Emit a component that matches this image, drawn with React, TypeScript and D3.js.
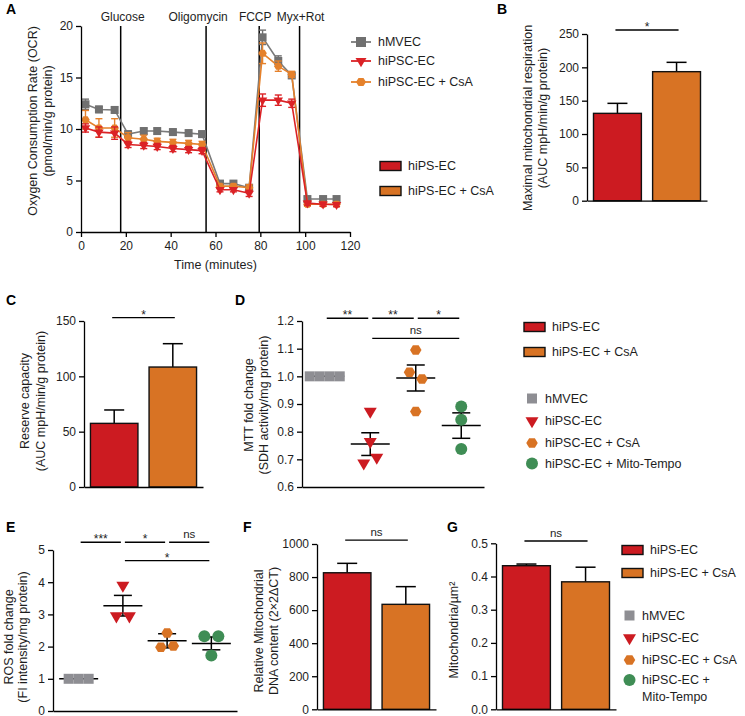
import React, { useEffect, useRef } from "react";
import * as d3 from "d3";

const FONT = "'Liberation Sans', Arial, Helvetica, sans-serif";
const TXT = "#1e1e1e";
const RED = "#cc1b21";
const ORANGE = "#d87324";
const GRAY_A = "#707070";
const GRAY_D = "#8e8e93";
const GREEN = "#3f8d55";
const LINE_RED = "#db2226";
const LINE_ORANGE = "#e5812b";

// ---------- Panel A: OCR time course ----------
const timePoints = [2, 8, 15, 21, 28, 34, 41, 48, 54, 62, 68, 75, 81, 88, 94, 101, 108, 114];
const ocrHMVEC = [12.4, 11.9, 11.85, 9.5, 9.8, 9.8, 9.7, 9.6, 9.5, 4.7, 4.7, 4.3, 18.9, 16.6, 15.2, 3.2, 3.2, 3.2];
const ocrHMVECErr = [0.5, 0.3, 0.3, 0.3, 0.3, 0.3, 0.3, 0.3, 0.3, 0.2, 0.2, 0.2, 0.7, 0.5, 0.2, 0.2, 0.2, 0.2];
const ocrHiPSC = [10.1, 9.7, 9.6, 8.5, 8.4, 8.3, 8.1, 8.0, 7.9, 4.1, 4.1, 3.75, 12.8, 12.8, 12.5, 2.8, 2.7, 2.65];
const ocrHiPSCErr = [0.4, 0.5, 0.6, 0.3, 0.3, 0.3, 0.3, 0.3, 0.3, 0.2, 0.2, 0.3, 0.6, 0.5, 0.4, 0.2, 0.2, 0.2];
const ocrHiPSCCsA = [10.9, 10.1, 10.1, 9.15, 9.0, 8.8, 8.7, 8.6, 8.5, 4.45, 4.45, 4.3, 17.35, 16.1, 15.3, 2.7, 2.7, 2.7];
const ocrHiPSCCsAErr = [0.9, 0.9, 0.9, 0.5, 0.4, 0.3, 0.3, 0.3, 0.3, 0.2, 0.2, 0.3, 1.0, 0.5, 0.3, 0.2, 0.2, 0.2];
const injectionTimes = [17.7, 55.8, 79.5, 97.5];
const injectionLabels = ["Glucose", "Oligomycin", "FCCP", "Myx+Rot"];
const ocrTicksY = [0, 5, 10, 15, 20];
const ocrTicksX = [0, 20, 40, 60, 80, 100, 120];
const lineSeriesNames = ["hMVEC", "hiPSC-EC", "hiPSC-EC + CsA"];

// ---------- Bar panels ----------
const barGroups = ["hiPS-EC", "hiPS-EC + CsA"];
const maxResp = [131, 193.5];
const maxRespErr = [15, 14];
const reserveCap = [57.5, 108.4];
const reserveCapErr = [12.1, 21.1];
const mtDNA = [826, 635];
const mtDNAErr = [57, 107];
const mitoDensity = [0.4325, 0.384];
const mitoDensityErr = [0.005, 0.044];

// ---------- Scatter panels ----------
const scatterGroups = ["hMVEC", "hiPSC-EC", "hiPSC-EC + CsA", "hiPSC-EC + Mito-Tempo"];
const mttValues = [
  [1.0, 1.0, 1.0, 1.0],
  [0.873, 0.764, 0.686, 0.707],
  [1.095, 1.015, 0.99, 0.873],
  [0.891, 0.843, 0.737],
];
const mttMean = [1.0, 0.755, 0.994, 0.822];
const mttSem = [0, 0.041, 0.047, 0.046];
const mttTicks = [0.6, 0.7, 0.8, 0.9, 1.0, 1.1, 1.2];

const rosValues = [
  [1, 1, 1],
  [3.9, 2.95, 2.95],
  [2.42, 1.98, 2.02],
  [2.32, 2.32, 1.72],
];
const rosMean = [1.0, 3.27, 2.18, 2.1];
const rosSem = [0, 0.32, 0.22, 0.2];
const rosTicks = [0, 1, 2, 3, 4, 5];

// significance: [from, to, label, level value]
const mttSig: [number, number, string, number][] = [
  [0, 1, "**", 1.21],
  [1, 2, "**", 1.21],
  [2, 3, "*", 1.21],
  [1, 3, "ns", 1.137],
];
const rosSig: [number, number, string, number][] = [
  [0, 1, "***", 5.24],
  [1, 2, "*", 5.24],
  [2, 3, "ns", 5.24],
  [1, 3, "*", 4.67],
];

const shapes = ["square", "triangle", "hexagon", "circle"];
const scatterColors = [GRAY_D, RED, ORANGE, GREEN];
const markerSize: Record<string, number> = { square: 10, triangle: 13, hexagon: 11.5, circle: 12 };
const dodgeStep: Record<string, number> = { square: 10, triangle: 13, hexagon: 12.5, circle: 14 };
const injectionLabelShift = [2, -8, -4, 1];
const LEG_FS = 12.5;
const TITLE_FS = 12.5;

function markerPath(shape: string, s: number): string {
  const r = s / 2;
  if (shape === "square") return `M${-r},${-r}H${r}V${r}H${-r}Z`;
  if (shape === "triangle") {
    const h = s * 0.85;
    return `M${-r},${-h / 3}L${r},${-h / 3}L0,${(2 * h) / 3}Z`;
  }
  if (shape === "hexagon") {
    const pts = d3.range(6).map((i) => {
      const a = (Math.PI / 3) * i;
      return [r * Math.cos(a), r * 0.95 * Math.sin(a)];
    });
    return "M" + pts.map((p) => p.join(",")).join("L") + "Z";
  }
  return d3.symbol(d3.symbolCircle, Math.PI * r * r)() as string;
}

function styleAxis(g: any) {
  g.attr("font-size", 12).attr("font-family", FONT);
  g.selectAll("path.domain").attr("stroke", "#000").attr("stroke-width", 1.3);
  g.selectAll(".tick line").attr("stroke", "#000").attr("stroke-width", 1.3);
  g.selectAll(".tick text").attr("fill", TXT);
}

function yLabel(svg: any, lines: string[], xs: number[], yc: number) {
  lines.forEach((t, i) =>
    svg
      .append("text")
      .attr("transform", `translate(${xs[i]},${yc}) rotate(-90)`)
      .attr("text-anchor", "middle")
      .attr("dy", "0.35em")
      .attr("font-size", TITLE_FS)
      .attr("fill", TXT)
      .text(t)
  );
}

function panelLetter(svg: any, t: string, x: number, y: number) {
  svg.append("text").attr("x", x).attr("y", y).attr("font-size", 14).attr("font-weight", "bold").attr("fill", "#000").text(t);
}

function sigMark(svg: any, xa: number, xb: number, yy: number, label: string) {
  svg.append("line").attr("x1", xa).attr("x2", xb).attr("y1", yy).attr("y2", yy).attr("stroke", "#000").attr("stroke-width", 1.3);
  const isStar = label.includes("*");
  svg
    .append("text")
    .attr("x", (xa + xb) / 2)
    .attr("y", isStar ? yy + 1 : yy - 4)
    .attr("text-anchor", "middle")
    .attr("font-size", isStar ? 12 : 11.5)
    .attr("fill", TXT)
    .text(label);
}

function barPanel(svg: any, cfg: any) {
  const y = d3.scaleLinear().domain([0, cfg.max]).range([cfg.yBot, cfg.yTop]);
  const x = d3.scaleBand<string>().domain(barGroups).range([cfg.x0, cfg.x1]).paddingInner(0.19).paddingOuter(0.11);
  const colors = [RED, ORANGE];
  const g = svg.append("g");
  barGroups.forEach((k, i) => {
    const cx = (x(k) as number) + x.bandwidth() / 2;
    const top = y(cfg.values[i] + cfg.errs[i]);
    g.append("line").attr("x1", cx).attr("x2", cx).attr("y1", y(cfg.values[i])).attr("y2", top).attr("stroke", "#000").attr("stroke-width", 1.5);
    g.append("line").attr("x1", cx - 10).attr("x2", cx + 10).attr("y1", top).attr("y2", top).attr("stroke", "#000").attr("stroke-width", 1.5);
  });
  g.selectAll("rect.bar")
    .data(barGroups)
    .enter()
    .append("rect")
    .attr("x", (k: string) => x(k))
    .attr("width", x.bandwidth())
    .attr("y", (_: string, i: number) => y(cfg.values[i]))
    .attr("height", (_: string, i: number) => cfg.yBot - y(cfg.values[i]))
    .attr("fill", (_: string, i: number) => colors[i])
    .attr("stroke", "#111")
    .attr("stroke-width", 1.4);
  const ya = svg
    .append("g")
    .attr("transform", `translate(${cfg.x0},0)`)
    .call(d3.axisLeft(y).tickValues(cfg.ticks).tickFormat(d3.format(cfg.fmt)).tickSize(5).tickSizeOuter(0).tickPadding(3));
  styleAxis(ya);
  const xa = svg
    .append("g")
    .attr("transform", `translate(0,${cfg.yBot})`)
    .call(d3.axisBottom(x).tickSize(0).tickSizeOuter(0).tickFormat(() => ""));
  styleAxis(xa);
  const c0 = (x(barGroups[0]) as number) + x.bandwidth() / 2;
  const c1 = (x(barGroups[1]) as number) + x.bandwidth() / 2;
  sigMark(svg, c0 - 2, c1 + 2, y(cfg.sigLevel), cfg.sigLabel);
}

function scatterPanel(svg: any, cfg: any) {
  const y = d3.scaleLinear().domain(cfg.domain).range([cfg.yBot, cfg.yTop]);
  const x = d3.scalePoint<string>().domain(scatterGroups).range([cfg.x0, cfg.x1]).padding(cfg.pad);
  scatterGroups.forEach((k, i) => {
    const cx = x(k) as number;
    const m = cfg.mean[i];
    const s = cfg.sem[i];
    svg.append("line").attr("x1", cx - 19.5).attr("x2", cx + 19.5).attr("y1", y(m)).attr("y2", y(m)).attr("stroke", "#000").attr("stroke-width", 1.5);
    if (s > 0) {
      svg.append("line").attr("x1", cx).attr("x2", cx).attr("y1", y(m - s)).attr("y2", y(m + s)).attr("stroke", "#000").attr("stroke-width", 1.5);
      [m - s, m + s].forEach((v) =>
        svg.append("line").attr("x1", cx - 9).attr("x2", cx + 9).attr("y1", y(v)).attr("y2", y(v)).attr("stroke", "#000").attr("stroke-width", 1.5)
      );
    }
  });
  scatterGroups.forEach((k, i) => {
    const vals: number[] = cfg.values[i];
    const shape = shapes[i];
    const step = dodgeStep[shape];
    const order = vals.map((_, j) => j).sort((a, b) => vals[a] - vals[b]);
    const offsets = new Array(vals.length).fill(0);
    let cluster: number[] = [];
    const flush = () => {
      const c = cluster.slice().sort((a, b) => a - b);
      const n = c.length;
      c.forEach((idx, j) => (offsets[idx] = (j - (n - 1) / 2) * step));
      cluster = [];
    };
    order.forEach((j) => {
      if (cluster.length && Math.abs(y(vals[j]) - y(vals[cluster[cluster.length - 1]])) > 8) flush();
      cluster.push(j);
    });
    flush();
    vals.forEach((v, j) => {
      svg
        .append("path")
        .attr("d", markerPath(shape, markerSize[shape]))
        .attr("transform", `translate(${(x(k) as number) + offsets[j]},${y(v)})`)
        .attr("fill", scatterColors[i]);
    });
  });
  const ya = svg
    .append("g")
    .attr("transform", `translate(${cfg.x0},0)`)
    .call(d3.axisLeft(y).tickValues(cfg.ticks).tickFormat(d3.format(cfg.fmt)).tickSize(5).tickSizeOuter(0).tickPadding(3));
  styleAxis(ya);
  const xa = svg
    .append("g")
    .attr("transform", `translate(0,${cfg.yBot})`)
    .call(d3.axisBottom(x).tickSize(0).tickSizeOuter(0).tickFormat(() => ""));
  styleAxis(xa);
  cfg.sig.forEach(([a, b, label, lvl]: [number, number, string, number]) => {
    sigMark(svg, (x(scatterGroups[a]) as number) + 2, (x(scatterGroups[b]) as number) - 2, y(lvl), label);
  });
}

function barLegend(svg: any, x: number, ys: number[]) {
  [RED, ORANGE].forEach((c, i) => {
    svg.append("rect").attr("x", x).attr("y", ys[i] - 4.5).attr("width", 21).attr("height", 9).attr("fill", c).attr("stroke", "#111").attr("stroke-width", 1.4);
    svg.append("text").attr("x", x + 28).attr("y", ys[i]).attr("dy", "0.35em").attr("font-size", LEG_FS).attr("fill", TXT).text(barGroups[i]);
  });
}

function markerLegend(svg: any, x: number, tx: number, ys: number[], labels: string[][]) {
  scatterGroups.forEach((_, i) => {
    svg.append("path").attr("d", markerPath(shapes[i], markerSize[shapes[i]])).attr("transform", `translate(${x},${ys[i]})`).attr("fill", scatterColors[i]);
    labels[i].forEach((t, j) =>
      svg
        .append("text")
        .attr("x", tx)
        .attr("y", ys[i] + j * 17)
        .attr("dy", "0.35em")
        .attr("font-size", LEG_FS)
        .attr("fill", TXT)
        .text(t)
    );
  });
}

function draw(svg: any) {
  svg.attr("font-family", FONT);

  // ================= Panel A =================
  const xA = d3.scaleLinear().domain([0, 120]).range([81, 350]);
  const yA = d3.scaleLinear().domain([0, 20]).range([232, 26]);
  panelLetter(svg, "A", 6, 14);
  injectionTimes.forEach((t, i) => {
    svg.append("line").attr("x1", xA(t)).attr("x2", xA(t)).attr("y1", yA(0)).attr("y2", yA(20)).attr("stroke", "#000").attr("stroke-width", 1.5);
    svg.append("text").attr("x", xA(t) + injectionLabelShift[i]).attr("y", 20.5).attr("text-anchor", "middle").attr("font-size", 12).attr("fill", TXT).text(injectionLabels[i]);
  });
  const series = [
    { v: ocrHMVEC, e: ocrHMVECErr, c: GRAY_A, lc: "#7a7a7a", shape: "square", s: 8 },
    { v: ocrHiPSCCsA, e: ocrHiPSCCsAErr, c: LINE_ORANGE, lc: LINE_ORANGE, shape: "hexagon", s: 8.5 },
    { v: ocrHiPSC, e: ocrHiPSCErr, c: LINE_RED, lc: LINE_RED, shape: "triangle", s: 9.5 },
  ];
  const line = d3
    .line<number>()
    .x((_, i) => xA(timePoints[i]))
    .y((d) => yA(d));
  series.forEach((s) => {
    s.v.forEach((v, i) => {
      const cx = xA(timePoints[i]);
      svg.append("line").attr("x1", cx).attr("x2", cx).attr("y1", yA(v - s.e[i])).attr("y2", yA(v + s.e[i])).attr("stroke", s.c).attr("stroke-width", 1.4);
      [v - s.e[i], v + s.e[i]].forEach((w) =>
        svg.append("line").attr("x1", cx - 3.5).attr("x2", cx + 3.5).attr("y1", yA(w)).attr("y2", yA(w)).attr("stroke", s.c).attr("stroke-width", 1.4)
      );
    });
    svg.append("path").attr("d", line(s.v)).attr("fill", "none").attr("stroke", s.lc).attr("stroke-width", 1.6);
    s.v.forEach((v, i) => {
      svg.append("path").attr("d", markerPath(s.shape, s.s)).attr("transform", `translate(${xA(timePoints[i])},${yA(v)})`).attr("fill", s.c);
    });
  });
  const yaA = svg.append("g").attr("transform", "translate(81,0)").call(d3.axisLeft(yA).tickValues(ocrTicksY).tickSize(5).tickSizeOuter(0).tickPadding(3));
  styleAxis(yaA);
  const xaA = svg.append("g").attr("transform", "translate(0,232)").call(d3.axisBottom(xA).tickValues(ocrTicksX).tickSize(5).tickSizeOuter(0).tickPadding(4));
  styleAxis(xaA);
  svg.append("text").attr("x", (xA(0) + xA(120)) / 2).attr("y", 269).attr("text-anchor", "middle").attr("font-size", TITLE_FS).attr("fill", TXT).text("Time (minutes)");
  yLabel(svg, ["Oxygen Consumption Rate (OCR)", "(pmol/min/g protein)"], [33, 48], 121);
  const legA = [
    { c: GRAY_A, lc: "#7a7a7a", shape: "square", s: 10, y: 42 },
    { c: LINE_RED, lc: LINE_RED, shape: "triangle", s: 11, y: 61 },
    { c: LINE_ORANGE, lc: LINE_ORANGE, shape: "hexagon", s: 10, y: 82 },
  ];
  legA.forEach((l, i) => {
    svg.append("line").attr("x1", 351).attr("x2", 371).attr("y1", l.y).attr("y2", l.y).attr("stroke", l.lc).attr("stroke-width", 1.8);
    svg.append("path").attr("d", markerPath(l.shape, l.s)).attr("transform", `translate(361,${l.y})`).attr("fill", l.c);
    svg.append("text").attr("x", 378).attr("y", l.y).attr("dy", "0.35em").attr("font-size", LEG_FS).attr("fill", TXT).text(lineSeriesNames[i]);
  });
  barLegend(svg, 380, [166, 191]);

  // ================= Panel B =================
  panelLetter(svg, "B", 497, 14);
  barPanel(svg, {
    values: maxResp, errs: maxRespErr, max: 250, ticks: [0, 50, 100, 150, 200, 250], fmt: "d",
    x0: 587, x1: 707, yTop: 34, yBot: 200.7, sigLevel: 256, sigLabel: "*",
  });
  yLabel(svg, ["Maximal mitochondrial respiration", "(AUC mpH/min/g protein)"], [528, 543], 118);

  // ================= Panel C =================
  panelLetter(svg, "C", 6, 305);
  barPanel(svg, {
    values: reserveCap, errs: reserveCapErr, max: 150, ticks: [0, 50, 100, 150], fmt: "d",
    x0: 84, x1: 203, yTop: 321, yBot: 487, sigLevel: 153, sigLabel: "*",
  });
  yLabel(svg, ["Reserve capacity", "(AUC mpH/min/g protein)"], [25, 41], 401);

  // ================= Panel D =================
  panelLetter(svg, "D", 235, 305);
  scatterPanel(svg, {
    values: mttValues, mean: mttMean, sem: mttSem, domain: [0.6, 1.2], ticks: mttTicks, fmt: ".1f",
    x0: 302, x1: 484, pad: 0.5, yTop: 321, yBot: 487, sig: mttSig,
  });
  yLabel(svg, ["MTT fold change", "(SDH activity/mg protein)"], [249, 264], 405);
  barLegend(svg, 524, [327, 352]);
  markerLegend(svg, 532, 545, [398.5, 421, 443, 463.5], [["hMVEC"], ["hiPSC-EC"], ["hiPSC-EC + CsA"], ["hiPSC-EC + Mito-Tempo"]]);

  // ================= Panel E =================
  panelLetter(svg, "E", 6, 532);
  scatterPanel(svg, {
    values: rosValues, mean: rosMean, sem: rosSem, domain: [0, 5], ticks: rosTicks, fmt: "d",
    x0: 53, x1: 237, pad: 0.58, yTop: 550, yBot: 711, sig: rosSig,
  });
  yLabel(svg, ["ROS fold change", "(FI intensity/mg protein)"], [9, 23], 637);

  // ================= Panel F =================
  panelLetter(svg, "F", 243, 532);
  barPanel(svg, {
    values: mtDNA, errs: mtDNAErr, max: 1000, ticks: [0, 200, 400, 600, 800, 1000], fmt: "d",
    x0: 317, x1: 436, yTop: 544, yBot: 709.3, sigLevel: 1024, sigLabel: "ns",
  });
  yLabel(svg, ["Relative Mitochondrial", "DNA content (2×2ΔCT)"], [259, 274], 631);

  // ================= Panel G =================
  panelLetter(svg, "G", 447, 532);
  barPanel(svg, {
    values: mitoDensity, errs: mitoDensityErr, max: 0.5, ticks: [0, 0.1, 0.2, 0.3, 0.4, 0.5], fmt: ".1f",
    x0: 496, x1: 616, yTop: 543.3, yBot: 709.3, sigLevel: 0.507, sigLabel: "ns",
  });
  yLabel(svg, ["Mitochondria/µm²"], [454], 630);
  barLegend(svg, 622, [550, 573]);
  markerLegend(svg, 629.5, 642, [615.5, 638, 660, 680], [["hMVEC"], ["hiPSC-EC"], ["hiPSC-EC + CsA"], ["hiPSC-EC +", "Mito-Tempo"]]);
}

export default function App() {
  const ref = useRef<SVGSVGElement>(null);
  useEffect(() => {
    const svg = d3.select(ref.current);
    svg.selectAll("*").remove();
    draw(svg);
  }, []);
  return (
    <svg
      ref={ref}
      width={745}
      height={716}
      style={{ position: "absolute", left: 0, top: 0, background: "#fff" }}
    />
  );
}
